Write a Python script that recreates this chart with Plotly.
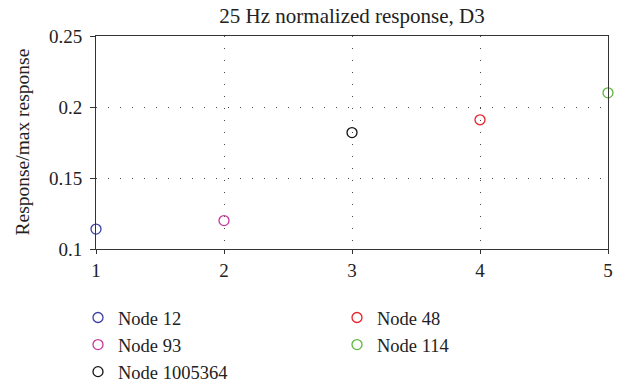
import plotly.graph_objects as go

names = ["Node 12", "Node 93", "Node 1005364", "Node 48", "Node 114"]
xs = [1, 2, 3, 4, 5]
ys = [0.114, 0.120, 0.182, 0.191, 0.210]
colors = ["#3a3fa0", "#c8399a", "#111111", "#e8212a", "#5cb83a"]
legend_ids = ["legend", "legend", "legend", "legend2", "legend2"]

x_ticks = [1, 2, 3, 4, 5]
y_ticks = [0.1, 0.15, 0.2, 0.25]
y_tick_text = ["0.1", "0.15", "0.2", "0.25"]
y_title = "Response/max response"

fig = go.Figure()
for n, x, y, c, lg in zip(names, xs, ys, colors, legend_ids):
    fig.add_trace(go.Scatter(
        x=[x], y=[y], mode="markers", name=n, legend=lg,
        marker=dict(symbol="circle-open", size=10, color=c, line=dict(width=1.3, color=c)),
        cliponaxis=False,
    ))

font_family = "Liberation Serif"
legend_common = dict(orientation="v", xanchor="left", xref="container",
                     yanchor="top", yref="container", y=1 - 299 / 385,
                     font=dict(size=18.5, family=font_family, color="#222"),
                     itemwidth=30, tracegroupgap=0, bgcolor="rgba(0,0,0,0)")
fig.update_layout(
    width=621, height=385,
    margin=dict(l=96, r=13, t=36, b=136, autoexpand=False),
    plot_bgcolor="white", paper_bgcolor="white",
    font=dict(family=font_family, size=19, color="#222"),
    title=dict(text="25 Hz normalized response, D3", x=0.5, xanchor="center",
               xref="paper", yref="container", y=1 - 16 / 385, yanchor="middle",
               font=dict(size=21, family=font_family, color="#222")),
    showlegend=True,
    legend=dict(x=78 / 621, **legend_common),
    legend2=dict(x=337 / 621, **legend_common),
)
fig.add_annotation(
    text=y_title, textangle=-90, showarrow=False,
    xref="paper", yref="paper", x=(22 - 96) / 512, y=0.5,
    xanchor="center", yanchor="middle",
    font=dict(size=19.5, family=font_family, color="#222"),
)
fig.update_xaxes(
    range=[1, 5], tickvals=x_ticks, ticks="outside", ticklen=4, tickcolor="#333",
    showline=True, linecolor="#333", linewidth=1, mirror=True,
    showgrid=True, gridcolor="#444", griddash="1px,11px", gridwidth=1,
    zeroline=False, tickfont=dict(size=19),
)
fig.update_yaxes(
    range=[0.1, 0.25], tickvals=y_ticks, ticktext=y_tick_text, ticks="outside", ticklen=5, tickcolor="#333",
    ticklabelstandoff=4,
    showline=True, linecolor="#333", linewidth=1, mirror=True,
    showgrid=True, gridcolor="#444", griddash="1px,11px", gridwidth=1,
    zeroline=False, tickfont=dict(size=19),
)
fig.write_html("out.html")
